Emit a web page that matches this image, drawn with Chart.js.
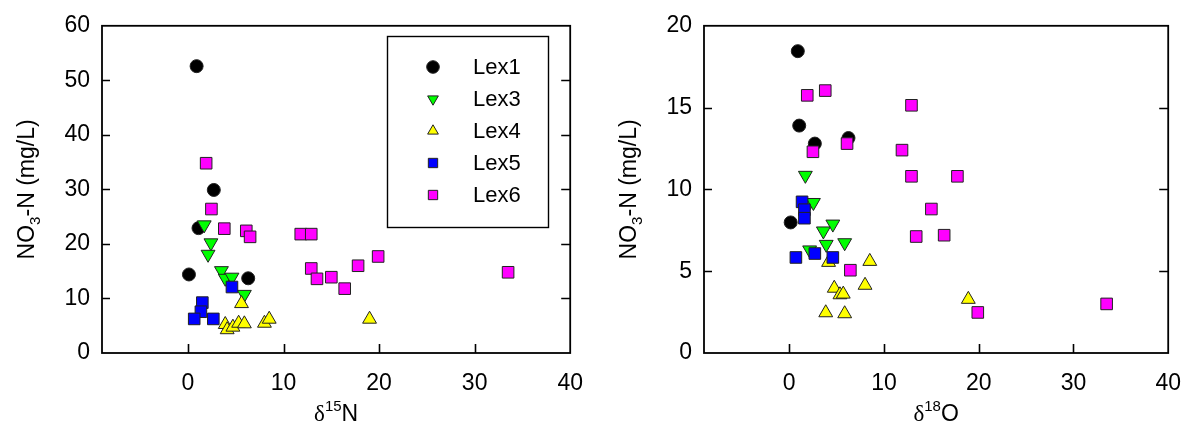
<!DOCTYPE html>
<html>
<head>
<meta charset="utf-8">
<script src="https://cdn.jsdelivr.net/npm/chart.js@4"></script>
<style>
  html, body { margin: 0; padding: 0; background: #fff; }
  #wrap { position: relative; width: 1198px; height: 443px; }
  canvas { position: absolute; top: 0; }
</style>
</head>
<body>
<div id="wrap">
  <canvas id="chartN" width="600" height="443" style="left:0"></canvas>
  <canvas id="chartO" width="598" height="443" style="left:600px"></canvas>
</div>
<script>
const seriesNames = ["Lex1", "Lex3", "Lex4", "Lex5", "Lex6"];

// left panel: d15N vs NO3-N
const lex1_d15N = [0.9, 2.7, 1.1, 0.1, 6.3];
const lex1_no3N = [52.6, 29.9, 22.9, 14.4, 13.7];
const lex3_d15N = [1.7, 2.4, 2.1, 3.5, 3.9, 4.6, 5.9];
const lex3_no3N = [23.5, 20.2, 18.1, 15.1, 13.7, 13.9, 10.75];
const lex4_d15N = [5.6, 3.9, 4.1, 4.7, 5.3, 5.9, 8.0, 8.5, 19.0];
const lex4_no3N = [9.06, 5.23, 4.27, 4.74, 5.46, 5.35, 5.46, 6.2, 6.2];
const lex5_d15N = [4.6, 1.5, 1.35, 0.65, 2.65];
const lex5_no3N = [12.1, 9.24, 7.57, 6.25, 6.25];
const lex6_d15N = [1.9, 2.45, 3.8, 6.1, 6.5, 11.8, 12.9, 12.9, 13.5, 15.0, 17.8, 19.9, 16.4, 33.5];
const lex6_no3N = [34.8, 26.4, 22.8, 22.4, 21.3, 21.8, 21.8, 15.5, 13.6, 13.9, 16.0, 17.7, 11.8, 14.8];

// right panel: d18O vs NO3-N
const lex1_d18O = [0.9, 1.05, 2.7, 6.25, 0.15];
const lex1_no3O = [18.45, 13.9, 12.8, 13.14, 7.98];
const lex3_d18O = [1.7, 2.15, 2.55, 4.6, 3.6, 3.9, 5.85, 2.15];
const lex3_no3O = [10.86, 9.2, 9.2, 7.88, 7.46, 6.64, 6.74, 6.3];
const lex4_d18O = [4.15, 8.5, 4.75, 5.35, 5.7, 8.0, 3.85, 5.85, 18.9];
const lex4_no3O = [5.54, 5.6, 3.96, 3.56, 3.6, 4.14, 2.46, 2.4, 3.28];
const lex5_d18O = [1.35, 1.6, 1.6, 2.7, 0.7, 4.6];
const lex5_no3O = [9.24, 8.76, 8.24, 6.08, 5.84, 5.84];
const lex6_d18O = [1.9, 3.8, 2.5, 6.1, 12.9, 11.9, 12.9, 17.75, 15.0, 13.4, 16.35, 6.45, 19.9, 33.5];
const lex6_no3O = [15.75, 16.04, 12.3, 12.8, 15.14, 12.4, 10.8, 10.8, 8.8, 7.12, 7.2, 5.06, 2.48, 3.0];

const xTicks = [0, 10, 20, 30, 40];
const yTicksN = [0, 10, 20, 30, 40, 50, 60];
const yTicksO = [0, 5, 10, 15, 20];

const FONT = "'Liberation Sans', Arial, sans-serif";
Chart.defaults.font.family = FONT;
Chart.defaults.font.size = 23;
Chart.defaults.color = "#000";

const markers = [
  { style: "circle", fill: "#000000", rot: 0, r: 6.5, lr: 6.3 },
  { style: "triangle", fill: "#00ff00", rot: 180, r: 8, lr: 6.2 },
  { style: "triangle", fill: "#ffff00", rot: 0, r: 8, lr: 6.2 },
  { style: "rect", fill: "#0000ff", rot: 0, r: 8.2, lr: 6.6 },
  { style: "rect", fill: "#ff00ff", rot: 0, r: 8.2, lr: 6.6 }
];

function pts(xs, ys) {
  return xs.map((x, i) => ({ x: x, y: ys[i] }));
}

function makeDatasets(xsList, ysList) {
  return seriesNames.map((name, i) => ({
    label: name,
    data: pts(xsList[i], ysList[i]),
    order: 5 - i,
    pointStyle: markers[i].style,
    pointRotation: markers[i].rot,
    pointRadius: markers[i].r,
    pointBackgroundColor: markers[i].fill,
    pointBorderColor: "#222",
    pointBorderWidth: 1,
    showLine: false
  }));
}

function drawRich(ctx, parts, cx, baseY) {
  let w = 0;
  parts.forEach(p => { ctx.font = p.font; w += ctx.measureText(p.text).width; });
  let x = cx - w / 2;
  ctx.textAlign = "left";
  ctx.textBaseline = "alphabetic";
  parts.forEach(p => {
    ctx.font = p.font;
    ctx.fillText(p.text, x, baseY + (p.dy || 0));
    x += ctx.measureText(p.text).width;
  });
}

const framePlugin = {
  id: "frame",
  afterDraw(chart, args, opts) {
    const ctx = chart.ctx;
    const a = chart.chartArea;
    const xs = chart.scales.x, ys = chart.scales.y;
    ctx.save();
    ctx.strokeStyle = "#000";
    ctx.lineWidth = 1.8;
    ctx.strokeRect(a.left, a.top, a.right - a.left, a.bottom - a.top);
    ctx.beginPath();
    ctx.lineWidth = 1.6;
    xs.ticks.forEach(t => {
      if (t.value <= xs.min || t.value >= xs.max) return;
      const px = Math.round(xs.getPixelForValue(t.value)) + 0.5;
      ctx.moveTo(px, a.bottom);
      ctx.lineTo(px, a.bottom - 9);
    });
    ys.ticks.forEach(t => {
      if (t.value <= ys.min || t.value >= ys.max) return;
      const py = Math.round(ys.getPixelForValue(t.value)) + 0.5;
      ctx.moveTo(a.left, py);
      ctx.lineTo(a.left + 8, py);
      ctx.moveTo(a.right, py);
      ctx.lineTo(a.right - 9, py);
    });
    ctx.stroke();

    // axis titles
    ctx.fillStyle = "#000";
    drawRich(ctx, opts.xTitle, (a.left + a.right) / 2, 421);
    ctx.save();
    ctx.translate(opts.yTitleX, (a.top + a.bottom) / 2);
    ctx.rotate(-Math.PI / 2);
    drawRich(ctx, opts.yTitle, 0, 8);
    ctx.restore();

    // legend box
    if (opts.legend) {
      const L = opts.legend;
      ctx.lineWidth = 1.4;
      ctx.strokeRect(L.x + 0.5, L.y + 0.5, L.w, L.h);
      seriesNames.forEach((name, i) => {
        const m = markers[i];
        const cy = L.firstRow + i * L.rowGap;
        ctx.fillStyle = m.fill;
        ctx.strokeStyle = "#222";
        ctx.lineWidth = 1;
        Chart.helpers.drawPoint(ctx, { pointStyle: m.style, rotation: m.rot, radius: m.lr, borderWidth: 1 }, L.markerX, cy);
        ctx.fillStyle = "#000";
        ctx.font = "22px " + FONT;
        ctx.textAlign = "left";
        ctx.textBaseline = "middle";
        ctx.fillText(name, L.textX, cy + 1);
      });
    }
    ctx.restore();
  }
};

function makeChart(id, datasets, yTicks, axisWidth, padRight, frameOpts) {
  return new Chart(document.getElementById(id), {
    type: "scatter",
    data: { datasets: datasets },
    plugins: [framePlugin],
    options: {
      responsive: false,
      animation: false,
      layout: { padding: { left: 0, right: padRight, top: 20, bottom: 0 } },
      plugins: {
        legend: { display: false },
        tooltip: { enabled: false },
        frame: frameOpts
      },
      scales: {
        x: {
          type: "linear",
          min: -9,
          max: 40,
          afterBuildTicks: s => { s.ticks = xTicks.map(v => ({ value: v })); },
          afterFit: s => { s.height = 90; },
          grid: { display: false, drawTicks: false },
          border: { display: false },
          ticks: { padding: 17, maxRotation: 0, autoSkip: false }
        },
        y: {
          type: "linear",
          min: yTicks[0],
          max: yTicks[yTicks.length - 1],
          afterBuildTicks: s => { s.ticks = yTicks.map(v => ({ value: v })); },
          afterFit: s => { s.width = axisWidth; },
          grid: { display: false, drawTicks: false },
          border: { display: false },
          ticks: { padding: 12, autoSkip: false }
        }
      }
    }
  });
}

const sans23 = "23px " + FONT;
const sub15 = "15px " + FONT;
const serif23 = "23px 'Liberation Serif', 'DejaVu Serif', serif";

makeChart("chartN",
  makeDatasets([lex1_d15N, lex3_d15N, lex4_d15N, lex5_d15N, lex6_d15N],
               [lex1_no3N, lex3_no3N, lex4_no3N, lex5_no3N, lex6_no3N]),
  yTicksN, 102, 26,
  {
    xTitle: [
      { text: "δ", font: serif23 },
      { text: "15", font: sub15, dy: -10 },
      { text: "N", font: sans23 }
    ],
    yTitle: [
      { text: "NO", font: sans23 },
      { text: "3", font: sub15, dy: 6 },
      { text: "-N (mg/L)", font: sans23 }
    ],
    yTitleX: 26,
    legend: { x: 387, y: 36, w: 161, h: 191, markerX: 433, textX: 473, firstRow: 67, rowGap: 32 }
  });

makeChart("chartO",
  makeDatasets([lex1_d18O, lex3_d18O, lex4_d18O, lex5_d18O, lex6_d18O],
               [lex1_no3O, lex3_no3O, lex4_no3O, lex5_no3O, lex6_no3O]),
  yTicksO, 104, 20,
  {
    xTitle: [
      { text: "δ", font: serif23 },
      { text: "18", font: sub15, dy: -10 },
      { text: "O", font: sans23 }
    ],
    yTitle: [
      { text: "NO", font: sans23 },
      { text: "3", font: sub15, dy: 6 },
      { text: "-N (mg/L)", font: sans23 }
    ],
    yTitleX: 28,
    legend: null
  });
</script>
</body>
</html>
